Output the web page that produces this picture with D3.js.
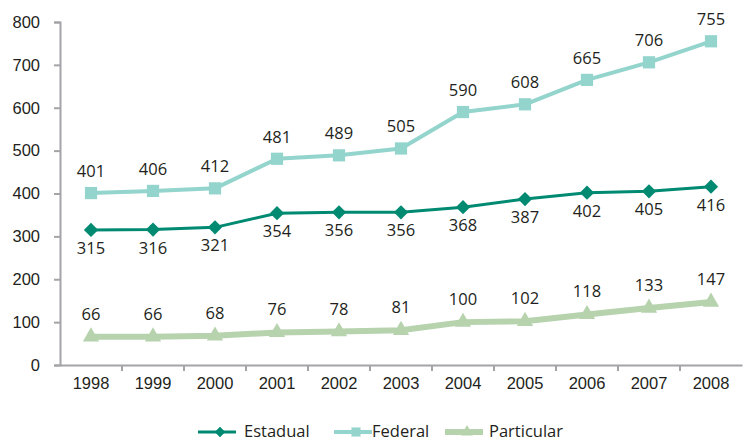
<!DOCTYPE html>
<html>
<head>
<meta charset="utf-8">
<script src="https://cdn.jsdelivr.net/npm/d3@7"></script>
<style>
  body { margin: 0; background: #fff; }
  svg { font-family: "Open Sans", "Noto Sans", sans-serif; }
</style>
</head>
<body>
<div id="chart"></div>
<script>
const years = ['1998', '1999', '2000', '2001', '2002', '2003', '2004', '2005', '2006', '2007', '2008'];
const estadual = [315, 316, 321, 354, 356, 356, 368, 387, 402, 405, 416];
const federal = [401, 406, 412, 481, 489, 505, 590, 608, 665, 706, 755];
const particular = [66, 66, 68, 76, 78, 81, 100, 102, 118, 133, 147];
const yTicks = [0, 100, 200, 300, 400, 500, 600, 700, 800];

const series = [
  { name: 'Estadual', values: estadual, color: '#008a72', width: 3, symbol: d3.symbolDiamond2, size: 130, labelDy: 24 },
  { name: 'Federal', values: federal, color: '#93d4cd', width: 4, symbol: d3.symbolSquare2, size: 190, labelDy: -16 },
  { name: 'Particular', values: particular, color: '#b6d3ae', width: 6, symbol: d3.symbolTriangle2, size: 190, labelDy: -17 }
];

const width = 744, height = 442;
const fontSize = '16.5px';
const svg = d3.select('#chart').append('svg')
  .attr('width', width)
  .attr('height', height);

const x = d3.scaleBand().domain(years).range([60, 742]);
const y = d3.scaleLinear().domain([0, 800]).range([365, 22]);
const axisColor = '#a3a3a8';

// y axis
const yAxis = svg.append('g')
  .attr('transform', 'translate(60,0)')
  .call(d3.axisLeft(y).tickValues(yTicks).tickSize(6).tickPadding(14));
yAxis.select('.domain').attr('stroke', axisColor).attr('stroke-width', 2);
yAxis.selectAll('.tick line').attr('stroke', axisColor).attr('stroke-width', 2);
yAxis.selectAll('.tick text').attr('fill', '#231f20').style('font-size', fontSize);

// x axis
const xAxis = svg.append('g')
  .attr('transform', 'translate(0,365)')
  .call(d3.axisBottom(x).tickSize(0).tickPadding(12));
xAxis.select('.domain').attr('stroke', axisColor).attr('stroke-width', 2);
xAxis.selectAll('.tick line').remove();
xAxis.selectAll('.tick text').attr('fill', '#231f20').style('font-size', fontSize);
// ticks between categories
svg.append('g')
  .selectAll('line')
  .data(years.slice(1))
  .join('line')
  .attr('x1', d => x(d))
  .attr('x2', d => x(d))
  .attr('y1', 365)
  .attr('y2', 371)
  .attr('stroke', axisColor)
  .attr('stroke-width', 2);

const cx = d => x(d) + x.bandwidth() / 2;

series.forEach(s => {
  const pts = years.map((yr, i) => ({ yr, v: s.values[i] }));
  const g = svg.append('g');
  g.append('path')
    .datum(pts)
    .attr('fill', 'none')
    .attr('stroke', s.color)
    .attr('stroke-width', s.width)
    .attr('stroke-linejoin', 'round')
    .attr('d', d3.line().x(d => cx(d.yr)).y(d => y(d.v)));
  g.selectAll('path.mark')
    .data(pts)
    .join('path')
    .attr('class', 'mark')
    .attr('transform', d => `translate(${cx(d.yr)},${y(d.v)})`)
    .attr('d', d3.symbol(s.symbol, s.size))
    .attr('fill', s.color);
  g.selectAll('text')
    .data(pts)
    .join('text')
    .attr('x', d => cx(d.yr))
    .attr('y', d => y(d.v) + s.labelDy)
    .attr('text-anchor', 'middle')
    .attr('fill', '#231f20')
    .style('font-size', fontSize)
    .text(d => d.v);
});

// legend
const legendPos = [
  { lx: 198, tx: 244 },
  { lx: 334, tx: 372 },
  { lx: 445, tx: 489 }
];
const legend = svg.append('g');
series.forEach((s, i) => {
  const p = legendPos[i];
  const ly = 432;
  legend.append('line')
    .attr('x1', p.lx).attr('x2', p.lx + 38)
    .attr('y1', ly).attr('y2', ly)
    .attr('stroke', s.color)
    .attr('stroke-width', s.width);
  legend.append('path')
    .attr('transform', `translate(${p.lx + 22},${ly})`)
    .attr('d', d3.symbol(s.symbol, s.size * 0.55))
    .attr('fill', s.color);
  legend.append('text')
    .attr('x', p.tx)
    .attr('y', ly + 5)
    .attr('fill', '#231f20')
    .style('font-size', fontSize)
    .text(s.name);
});
</script>
</body>
</html>
